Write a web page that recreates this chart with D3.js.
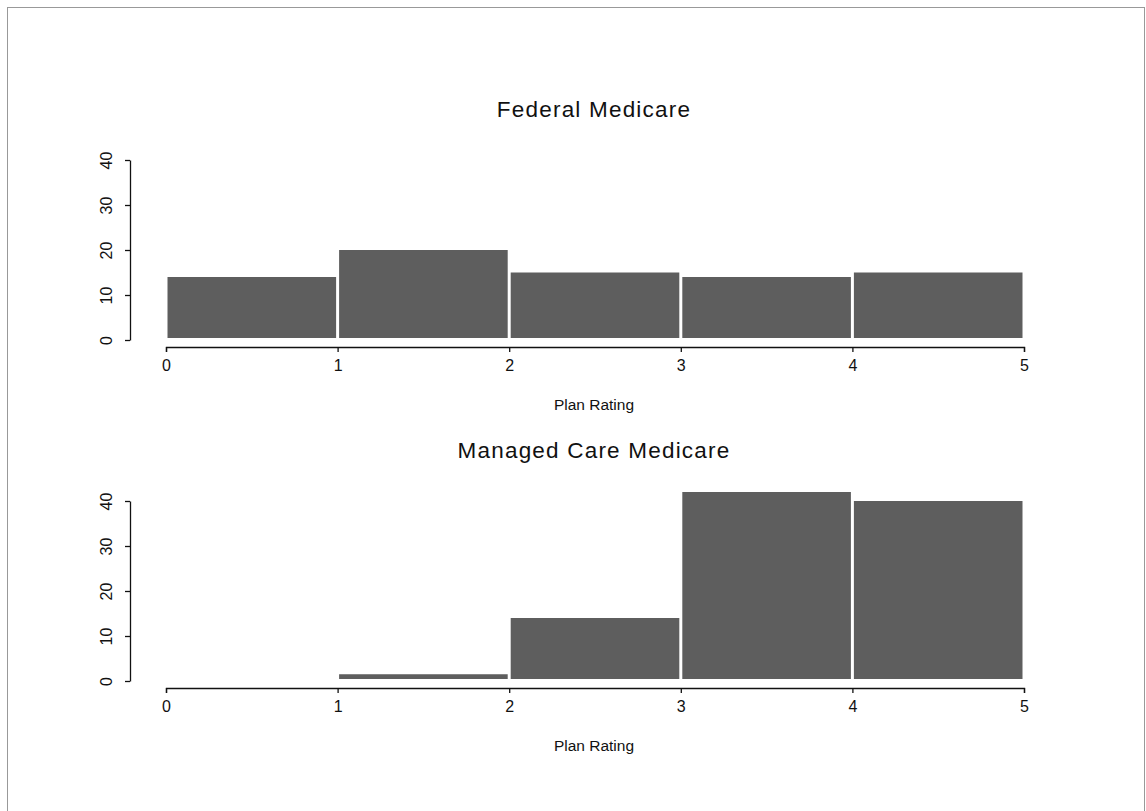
<!DOCTYPE html>
<html>
<head>
<meta charset="utf-8">
<script src="https://cdn.jsdelivr.net/npm/d3@7"></script>
<style>
  body { margin: 0; background: #fff; }
  svg text { font-family: "Liberation Sans", Arial, sans-serif; fill: #111; }
  .axis path, .axis line { stroke: #111; stroke-width: 1.3; }
</style>
</head>
<body>
<div id="chart"></div>
<script>
// bin edges of the plan rating, shared by both histograms
const ratingEdges = [0, 1, 2, 3, 4, 5];
// percent of respondents per bin
const federalPct = [14, 20, 15, 14, 15];
const managedPct = [0, 1.5, 14, 42, 40];
const yTicks = [0, 10, 20, 30, 40];
const panelTitles = ["Federal Medicare", "Managed Care Medicare"];
const xLabel = "Plan Rating";

const w = 1146, h = 811;
const svg = d3.select("#chart").append("svg")
    .attr("width", w)
    .attr("height", h);

// scanned page frame
svg.append("rect")
    .attr("x", 7.5).attr("y", 7.5)
    .attr("width", 1137).attr("height", 810)
    .attr("fill", "none")
    .attr("stroke", "#999")
    .attr("stroke-width", 1);

const xScale = d3.scaleLinear().domain([0, 5]).range([166, 1024]);

function drawPanel(values, title, zeroY) {
    const yScale = d3.scaleLinear().domain([0, 40]).range([zeroY, zeroY - 180]);
    const g = svg.append("g");

    const bins = values.map((v, i) => ({x0: ratingEdges[i], x1: ratingEdges[i + 1], v: v}));

    g.selectAll("rect.bar")
        .data(bins)
        .enter()
        .append("rect")
        .attr("class", "bar")
        .attr("x", d => xScale(d.x0) + 1.5)
        .attr("width", d => xScale(d.x1) - xScale(d.x0) - 3)
        .attr("y", d => yScale(d.v))
        .attr("height", d => yScale(0) - yScale(d.v) - 2)
        .attr("fill", "#5e5e5e");

    // x axis sits a little under the zero line, like R does it
    const xAxis = d3.axisBottom(xScale)
        .tickValues(ratingEdges)
        .tickFormat(d3.format("d"))
        .tickSize(5)
        .tickSizeOuter(5)
        .tickPadding(8);
    const gx = g.append("g")
        .attr("class", "axis")
        .attr("transform", `translate(0, ${zeroY + 7})`)
        .call(xAxis);
    gx.selectAll("text").attr("font-size", 16);

    const yAxis = d3.axisLeft(yScale)
        .tickValues(yTicks)
        .tickSize(5)
        .tickSizeOuter(0)
        .tickPadding(0);
    const gy = g.append("g")
        .attr("class", "axis")
        .attr("transform", "translate(130, 0)")
        .call(yAxis);
    gy.selectAll("text")
        .attr("font-size", 16)
        .attr("text-anchor", "middle")
        .attr("dy", 0)
        .attr("x", 0)
        .attr("transform", "translate(-18, 0) rotate(-90)");

    g.append("text")
        .attr("x", 594)
        .attr("y", zeroY + 70)
        .attr("text-anchor", "middle")
        .attr("font-size", 15.5)
        .text(xLabel);

    g.append("text")
        .attr("x", 594)
        .attr("y", zeroY - 223)
        .attr("text-anchor", "middle")
        .attr("font-size", 22.5)
        .attr("letter-spacing", 1.2)
        .text(title);
}

drawPanel(federalPct, panelTitles[0], 340);
drawPanel(managedPct, panelTitles[1], 681);
</script>
</body>
</html>
